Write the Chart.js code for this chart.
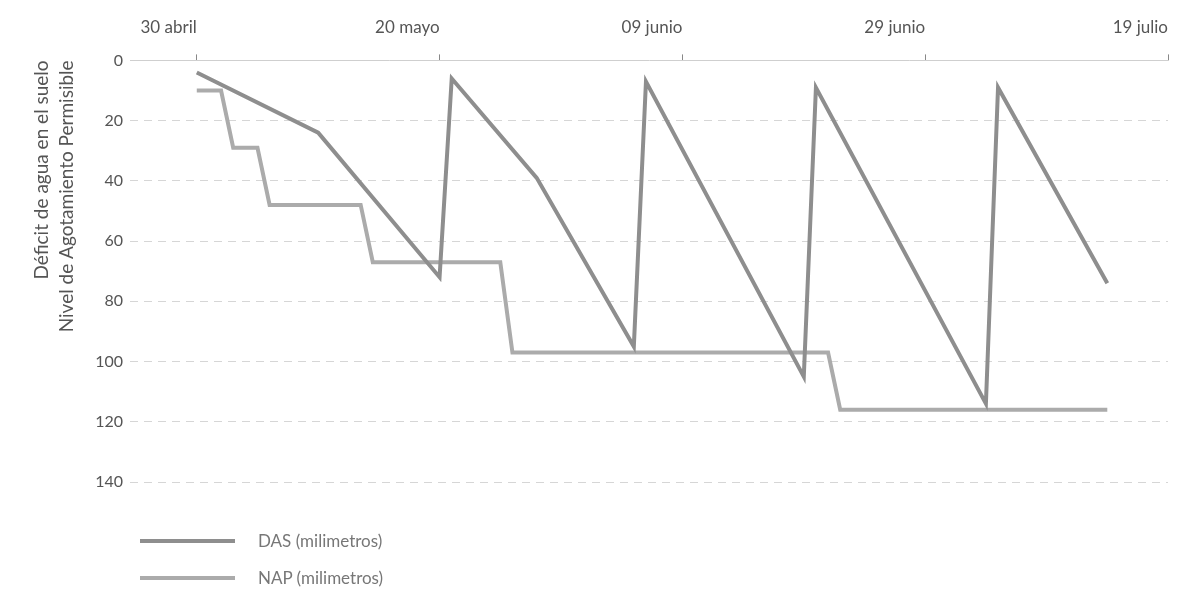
<!DOCTYPE html>
<html>
<head>
<meta charset="utf-8">
<script src="https://cdn.jsdelivr.net/npm/chart.js@4.4.0/dist/chart.umd.min.js"></script>
<style>
  html, body { margin: 0; padding: 0; background: #fff; }
  #wrap { position: relative; width: 1185px; height: 592px; }
  #legend { position: absolute; left: 140px; top: 522px; font-family: Lato, "Open Sans", sans-serif; font-size: 17px; color: #777; }
  .item { display: flex; align-items: center; height: 37px; }
  .swatch { width: 95px; height: 4px; margin-right: 23px; }
</style>
</head>
<body>
<div id="wrap">
  <canvas id="chart" width="1185" height="592"></canvas>
  <div id="legend"></div>
</div>
<script>
// days counted from 30 abril
const tickDays = [0, 20, 40, 60, 80];
const tickLabels = ["30 abril", "20 mayo", "09 junio", "29 junio", "19 julio"];
const yTitleLines = ["Déficit de agua en el suelo", "Nivel de Agotamiento Permisible"];

// DAS (milimetros)
const dasDays = [0, 10, 20, 21, 28, 36, 37, 50, 51, 65, 66, 75];
const dasValues = [4, 24, 72, 6, 39, 95, 7, 105, 9, 114, 9, 74];

// NAP (milimetros)
const napDays = [0, 2, 3, 5, 6, 13.5, 14.5, 25, 26, 52, 53, 75];
const napValues = [10, 10, 29, 29, 48, 48, 67, 67, 97, 97, 116, 116];

const toPoints = (xs, ys) => xs.map((x, i) => ({ x: x, y: ys[i] }));

const ctx = document.getElementById("chart");
const chart = new Chart(ctx, {
  type: "line",
  data: {
    datasets: [
      {
        label: "DAS (milimetros)",
        data: toPoints(dasDays, dasValues),
        borderColor: "#8e8e8e",
        borderWidth: 4,
        pointRadius: 0,
        tension: 0,
        order: 0,
      },
      {
        label: "NAP (milimetros)",
        data: toPoints(napDays, napValues),
        borderColor: "#ababab",
        borderWidth: 4,
        pointRadius: 0,
        tension: 0,
        order: 1,
      },
    ],
  },
  options: {
    responsive: false,
    animation: false,
    devicePixelRatio: 1,
    layout: { padding: { top: 0, left: 30, right: 4, bottom: 110 } },
    plugins: {
      legend: { display: false },
      tooltip: { enabled: false },
    },
    scales: {
      x: {
        type: "linear",
        position: "top",
        min: -5.5,
        max: 80,
        afterBuildTicks: (scale) => {
          scale.ticks = tickDays.map((v) => ({ value: v }));
        },
        ticks: {
          callback: (v) => tickLabels[tickDays.indexOf(v)],
          align: "end",
          autoSkip: false,
          maxRotation: 0,
          padding: 17,
          color: "#555",
          font: { family: "Lato, 'Open Sans', sans-serif", size: 17 },
        },
        grid: { drawOnChartArea: false, drawTicks: true, tickLength: 6, color: "#888" },
        border: { display: true, color: "#cfcfcf", width: 1 },
      },
      y: {
        position: "left",
        weight: 0,
        min: 0,
        max: 140,
        reverse: true,
        afterFit: (scale) => { scale.width = 45; },
        ticks: {
          stepSize: 20,
          padding: 7,
          color: "#555",
          font: { family: "Lato, 'Open Sans', sans-serif", size: 16 },
        },
        grid: {
          drawTicks: false,
          color: (c) => (c.tick && c.tick.value === 0 ? "rgba(0,0,0,0)" : "#d6d6d6"),
        },
        border: { display: false, dash: [8, 6] },
      },
      yTitle: {
        type: "linear",
        position: "left",
        weight: 1,
        min: 0,
        max: 1,
        afterFit: (scale) => { scale.width = 55; },
        ticks: { display: false },
        grid: { display: false, drawTicks: false },
        border: { display: false },
        title: {
          display: true,
          text: yTitleLines,
          align: "end",
          color: "#555",
          padding: { top: 0, bottom: 0 },
          font: { family: "Lato, 'Open Sans', sans-serif", size: 19, lineHeight: 1.3 },
        },
      },
    },
  },
});

// legend stacked vertically, built from the chart datasets
const legendEl = document.getElementById("legend");
chart.data.datasets.forEach((ds) => {
  const item = document.createElement("div");
  item.className = "item";
  const sw = document.createElement("span");
  sw.className = "swatch";
  sw.style.background = ds.borderColor;
  const txt = document.createElement("span");
  txt.textContent = ds.label;
  item.appendChild(sw);
  item.appendChild(txt);
  legendEl.appendChild(item);
});
</script>
</body>
</html>
